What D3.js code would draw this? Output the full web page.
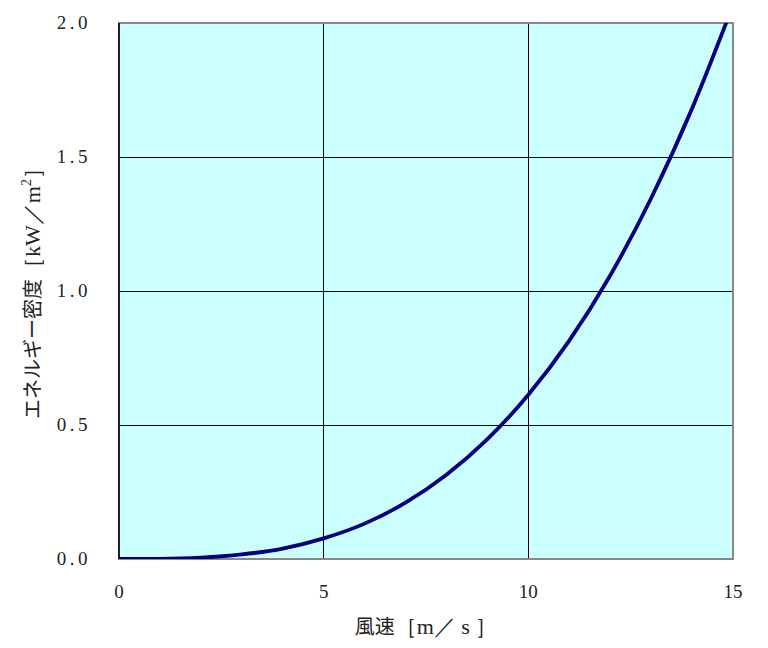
<!DOCTYPE html>
<html><head><meta charset="utf-8">
<script src="https://cdn.jsdelivr.net/npm/d3@7"></script>
<style>body{margin:0;background:#fff}</style>
</head><body>
<svg id="c" width="768" height="648"></svg>
<script>
const windSpeed = [0,1,2,3,4,5,6,7,8,9,10,11,12,13,14,15];
const energyDensity = [0,0.0006,0.005,0.017,0.039,0.077,0.132,0.21,0.314,0.447,0.613,0.815,1.058,1.346,1.681,2.067];
const xTicks = [0,5,10,15];
const yTicks = [0,0.5,1.0,1.5,2.0];
const xTitle = ["風速","［m／ s ］"];
const yTitleParts = ["エネルギー密度","［kW／m","2","］"];

const svg = d3.select("#c");
const L=119,R=733,T=23,B=559;
const x = d3.scaleLinear().domain([0,15]).range([L,R]);
const y = d3.scaleLinear().domain([0,2]).range([B,T]);
const serif = "'Liberation Serif','DejaVu Serif',serif";
const jp = "'Noto Sans CJK JP','Noto Sans CJK SC',sans-serif";

svg.append("rect").attr("x",L).attr("y",T).attr("width",R-L).attr("height",B-T).attr("fill","#ccffff");
svg.append("clipPath").attr("id","clip").append("rect").attr("x",L).attr("y",T).attr("width",R-L).attr("height",B-T);

// gridlines
svg.append("g").selectAll("line").data(xTicks.filter(d=>d>0&&d<15)).join("line")
  .attr("x1",d=>x(d)).attr("x2",d=>x(d)).attr("y1",T).attr("y2",B).attr("stroke","#000").attr("stroke-width",1).attr("shape-rendering","crispEdges");
svg.append("g").selectAll("line").data(yTicks.filter(d=>d>0&&d<2)).join("line")
  .attr("y1",d=>y(d)).attr("y2",d=>y(d)).attr("x1",L).attr("x2",R).attr("stroke","#000").attr("stroke-width",1).attr("shape-rendering","crispEdges");

// border
svg.append("rect").attr("x",L).attr("y",T).attr("width",R-L).attr("height",B-T).attr("fill","none").attr("stroke","#888").attr("stroke-width",2);
svg.append("line").attr("x1",L).attr("x2",L).attr("y1",T).attr("y2",B).attr("stroke","#222").attr("stroke-width",2);

// line
const line = d3.line().x((d,i)=>x(windSpeed[i])).y(d=>y(d)).curve(d3.curveMonotoneX);
svg.append("path").datum(energyDensity).attr("d",line).attr("fill","none")
  .attr("stroke","#000080").attr("stroke-width",3.8).attr("clip-path","url(#clip)");

// tick labels
svg.append("g").selectAll("text").data(yTicks).join("text")
  .attr("x",91).attr("y",d=>y(d)+6).attr("text-anchor","end")
  .attr("font-family",serif).attr("font-size",19).attr("letter-spacing",3.5).attr("fill","#222")
  .text(d=>d.toFixed(1));
svg.append("g").selectAll("text").data(xTicks).join("text")
  .attr("x",d=>x(d)).attr("y",598).attr("text-anchor","middle")
  .attr("font-family",serif).attr("font-size",19).attr("fill","#222")
  .text(d=>d);

// axis titles
const xt = svg.append("text").attr("x",426).attr("y",634).attr("text-anchor","middle")
  .attr("font-size",20).attr("fill","#222");
xt.append("tspan").attr("font-family",jp).text(xTitle[0]);
xt.append("tspan").attr("font-family",serif).attr("font-size",22).text(xTitle[1]);

const yt = svg.append("text").attr("transform","translate(40,288) rotate(-90)").attr("text-anchor","middle")
  .attr("font-size",20).attr("fill","#222");
yt.append("tspan").attr("font-family",jp).text(yTitleParts[0]);
yt.append("tspan").attr("font-family",serif).attr("font-size",22).text(yTitleParts[1]);
yt.append("tspan").attr("font-family",serif).attr("dy",-9).attr("font-size",14).text(yTitleParts[2]);
yt.append("tspan").attr("font-family",serif).attr("font-size",22).attr("dy",9).text(yTitleParts[3]);
</script>
</body></html>
